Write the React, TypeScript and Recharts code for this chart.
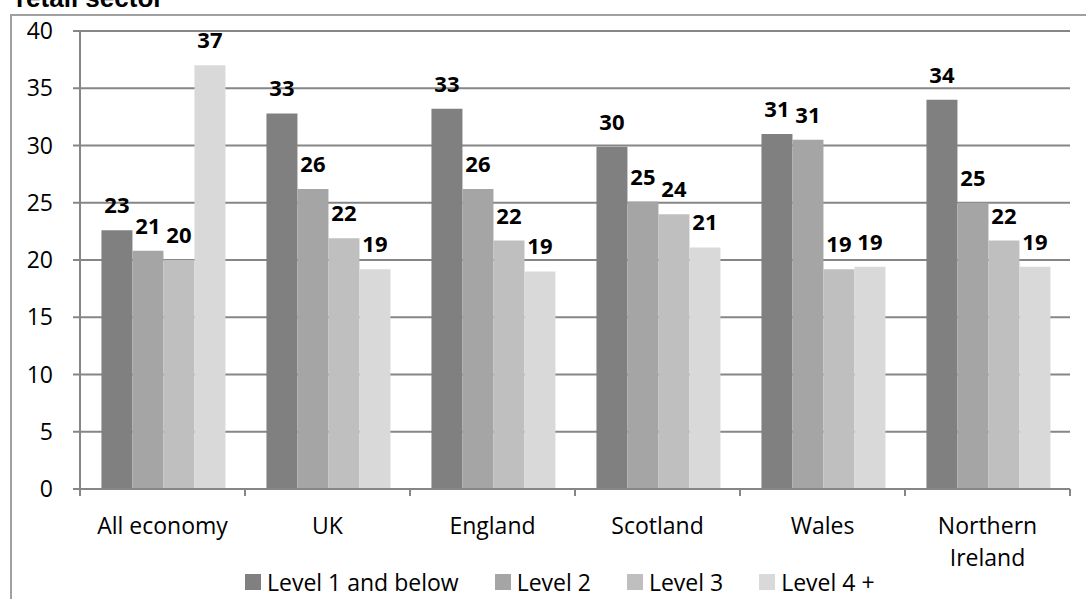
import React from "react";
import { Bar, BarChart, CartesianGrid, LabelList, Legend, XAxis, YAxis } from "recharts";

const categories = ["All economy", "UK", "England", "Scotland", "Wales", "Northern\nIreland"];
const level1 = [22.6, 32.8, 33.2, 29.9, 31.0, 34.0];
const level2 = [20.8, 26.2, 26.2, 25.1, 30.5, 25.0];
const level3 = [20.0, 21.9, 21.7, 24.0, 19.2, 21.7];
const level4 = [37.0, 19.2, 19.0, 21.1, 19.4, 19.4];
const yTicks = [0, 5, 10, 15, 20, 25, 30, 35, 40];

const series = [
  { key: "level1", name: "Level 1 and below", color: "#808080" },
  { key: "level2", name: "Level 2", color: "#a5a5a5" },
  { key: "level3", name: "Level 3", color: "#bfbfbf" },
  { key: "level4", name: "Level 4 +", color: "#d9d9d9" },
];

const data = categories.map((name, i) => ({
  name,
  level1: level1[i],
  level2: level2[i],
  level3: level3[i],
  level4: level4[i],
}));

const FONT = "'Open Sans', sans-serif";
const AXIS = "#868686";

// category label plus tick marks on the band edges
const CategoryTick = (props: any) => {
  const { x, y, payload, index } = props;
  const half = payload?.offset ?? 0;
  const lines = String(payload.value).split("\n");
  return (
    <g>
      <line x1={x - half} x2={x - half} y1={y} y2={y + 7} stroke={AXIS} strokeWidth={2} />
      {index === categories.length - 1 && (
        <line x1={x + half} x2={x + half} y1={y} y2={y + 7} stroke={AXIS} strokeWidth={2} />
      )}
      {lines.map((line, i) => (
        <text
          key={i}
          x={x}
          y={y + 36 + i * 32}
          textAnchor="middle"
          dominantBaseline="central"
          fontFamily={FONT}
          fontSize={23}
          fill="#000"
        >
          {line}
        </text>
      ))}
    </g>
  );
};

const LegendContent = () => (
  <div style={{ display: "flex", alignItems: "center", fontFamily: FONT, fontSize: 23, lineHeight: "28px", color: "#000" }}>
    {series.map((s) => (
      <div key={s.key} style={{ display: "flex", alignItems: "center", marginRight: 36 }}>
        <span style={{ width: 16, height: 16, background: s.color, marginRight: 6, display: "inline-block" }} />
        <span style={{ whiteSpace: "nowrap" }}>{s.name}</span>
      </div>
    ))}
  </div>
);

export default function App() {
  return (
    <div style={{ position: "absolute", left: 0, top: 0, width: 1086, height: 599, overflow: "hidden", background: "#fff" }}>
      <div
        style={{
          position: "absolute",
          left: 16,
          top: -15,
          fontFamily: "'Liberation Sans', Arial, sans-serif",
          fontWeight: "bold",
          fontSize: 26,
          lineHeight: 1,
          whiteSpace: "nowrap",
        }}
      >
        retail sector
      </div>
      <div
        style={{
          position: "absolute",
          left: 10,
          top: 14,
          width: 1200,
          height: 800,
          border: "2px solid #a0a0a0",
        }}
      />
      <div style={{ position: "absolute", left: 0, top: 0 }}>
        <BarChart
          width={1086}
          height={599}
          data={data}
          margin={{ top: 31, right: 16, left: 11, bottom: 0 }}
          barCategoryGap="13%"
          barGap={0}
        >
          <CartesianGrid vertical={false} stroke={AXIS} strokeWidth={2} />
          <XAxis
            dataKey="name"
            height={110}
            interval={0}
            tickSize={0}
            tickMargin={0}
            tickLine={false}
            axisLine={{ stroke: AXIS, strokeWidth: 2 }}
            tick={<CategoryTick />}
          />
          <YAxis
            width={69}
            domain={[0, 40]}
            ticks={yTicks}
            interval={0}
            tickSize={7}
            tickMargin={20}
            tickLine={{ stroke: AXIS, strokeWidth: 2 }}
            axisLine={{ stroke: AXIS, strokeWidth: 2 }}
            tick={{ fill: "#000", fontFamily: FONT, fontSize: 23 }}
          />
          <Legend
            verticalAlign="middle"
            align="center"
            layout="horizontal"
            content={<LegendContent />}
            wrapperStyle={{ top: 568, left: 245, width: "auto" }}
          />
          {series.map((s) => (
            <Bar key={s.key} dataKey={s.key} name={s.name} fill={s.color} isAnimationActive={false}>
              <LabelList
                dataKey={s.key}
                position="top"
                offset={17}
                formatter={(v: any) => Math.round(Number(v))}
                fill="#000"
                fontFamily={FONT}
                fontSize={22}
                fontWeight="bold"
              />
            </Bar>
          ))}
        </BarChart>
      </div>
    </div>
  );
}
